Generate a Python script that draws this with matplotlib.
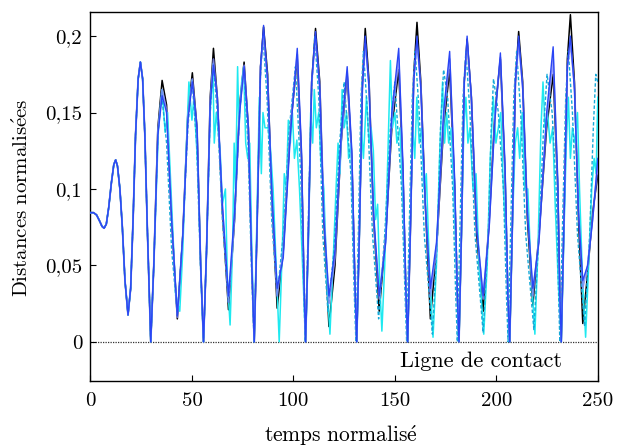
import matplotlib
matplotlib.use("Agg")
import matplotlib.pyplot as plt

plt.rcParams['font.family'] = ['cmr10', 'DejaVu Serif']
plt.rcParams['mathtext.fontset'] = 'cm'
plt.rcParams['axes.unicode_minus'] = False

# start of the signal (all simulations coincide here)
t_start = [0, 1.5, 3, 4.5, 5.7, 6.7, 7.8, 9, 10.3, 11.5, 12.4, 13.3, 14.5, 15.7, 17, 18.5, 19.8,
           21, 22.2, 23.5, 24.6, 25.7, 26.8, 28, 29.7]
d_start = [.0845, .0845, .083, .079, .0755, .0743, .077, .088, .104, .116, .119, .115, .100, .075,
           .040, .0176, .035, .08, .135, .172, .183, .172, .135, .075, 0]

# shared time grid for black / blue / mid-blue (after the start)
t = [31.2,
     33.2, 35.3, 37.5, 40, 42.8, 45.5, 48, 50.2, 52.5, 54.3, 55.7, 57.2, 59, 60.6, 62.5, 65,
     68, 71, 73.5, 75.7, 77.8, 79.5, 80.7, 82, 83.8, 85.3, 87.3, 89.5, 92, 95, 98.5, 101.9,
     104, 105.2, 106, 107.2, 109, 110.9, 113, 115, 117.5, 120.5, 123.5, 126.5, 128.8, 130.3,
     131.2, 132.5, 134, 135.4, 137.3, 139.5, 142.3, 145.5, 148.5, 151.9, 154, 155.4, 156.3,
     157.6, 159.3, 160.9, 162.8, 165, 167.5, 170.5, 174, 177, 179.5, 180.8, 181.6, 182.8,
     184.2, 185.6, 187.7, 190.3, 193.5, 196.5, 199.3, 202, 204.3, 205.7, 206.6, 207.8, 209.4,
     211, 213, 215.3, 218, 221, 224.8, 228, 230.3, 231.3, 232, 233.2, 235, 236.5, 238.5,
     240.5, 242.6, 245, 247.5, 250]

d_black = [.05,
           .14, .171, .155, .08, .015, .07, .15, .176, .14, .05, 0, .06, .16, .192, .16, .085,
           .021, .08, .155, .183, .14, .05, 0, .07, .18, .206, .175, .09, .022, .06, .14, .185,
           .12, .04, 0, .06, .17, .205, .17, .08, .01, .05, .13, .175, .12, .04,
           0, .07, .17, .205, .17, .08, .02, .07, .14, .178, .11, .035, 0,
           .07, .175, .209, .17, .09, .015, .06, .14, .178, .1, .03, 0, .07,
           .17, .198, .16, .07, .02, .08, .15, .185, .11, .03, 0, .07, .17,
           .203, .17, .08, .024, .07, .14, .175, .1, .03, 0, .07, .185, .214, .17,
           .08, .012, .045, .085, .109]

d_blue = [.05,
          .135, .161, .15, .08, .017, .07, .145, .17, .14, .05, 0, .06, .155, .181, .16, .09,
          .03, .085, .15, .18, .14, .05, 0, .07, .18, .207, .17, .095, .035, .055, .135, .192,
          .125, .04, 0, .06, .17, .203, .165, .08, .03, .06, .135, .18, .125, .04,
          0, .07, .165, .2, .165, .085, .03, .065, .15, .192, .115, .035, 0,
          .07, .17, .2, .165, .09, .035, .065, .15, .19, .105, .03, 0, .07,
          .17, .2, .16, .075, .03, .075, .145, .189, .115, .03, 0, .07, .17,
          .2, .165, .085, .035, .065, .15, .193, .105, .03, 0, .07, .18, .2, .165,
          .085, .04, .05, .08, .12]

d_mid = [.05,
         .138, .165, .152, .08, .016, .07, .148, .172, .14, .05, 0, .06, .158, .185, .16, .088,
         .026, .08, .152, .181, .14, .05, 0, .07, .18, .2, .172, .09, .03, .06, .14, .188,
         .12, .04, 0, .06, .17, .198, .168, .085, .025, .055, .13, .176, .12, .04,
         0, .07, .168, .195, .168, .08, .028, .068, .145, .185, .11, .035, 0,
         .07, .172, .196, .168, .09, .03, .06, .145, .185, .1, .03, 0, .07,
         .17, .195, .16, .075, .028, .078, .148, .186, .11, .03, 0, .07, .17,
         .195, .168, .085, .03, .068, .145, .185, .1, .03, 0, .07, .18, .195, .168,
         .085, .035, .05, .082, .115]

t_cyan = [31.2, 33.5, 35.3, 36.8, 38, 40, 42, 44,
          45.5, 47, 48.5, 50, 51, 53, 54.5, 55.7, 57.2, 59, 60.3, 61, 62, 63.9, 65, 66.5, 67.5,
          68.8, 70, 70.8, 71.5, 72.5, 73.2, 74.5, 75.5, 76.5, 77.5, 78.5, 79.5, 80.7, 82, 83.2,
          84.2, 85, 86, 87.5, 88.5, 90, 91.5, 93, 94.5, 95.5, 96.5, 97.5, 98.5, 99.5, 100.5,
          101.7, 103, 104.5, 106, 107.5, 108.5, 109.5, 110.3, 111.3, 112.5, 113.5, 115, 116.5,
          118, 119.5, 121, 122, 123, 124, 125, 126.2, 127.2, 128.3, 129.5, 131.2, 132.5, 133.5,
          134.5, 136, 137.3, 138.3, 139.4, 140.5, 141.5, 142.5, 143.6, 145, 146.5, 147.8, 148.8,
          150, 151, 152.5, 154, 156.3, 157.5, 158.8, 159.8, 160.8, 162, 163.2, 164.3, 165.5,
          167, 168.8, 170.5, 172, 173.5, 174.5, 175.5, 176.5, 177.8, 179, 181.6, 183, 184, 185,
          186, 187, 188.5, 190, 191.5, 193.8, 195.5, 197, 198.5, 199.8, 201, 202.2, 203.5, 205,
          206.6, 208, 209.3, 210.5, 211.5, 212.8, 214, 215.5, 217, 219, 220.5, 222, 223, 224,
          225.2, 226.5, 227.8, 229, 230.5, 232, 233.5, 234.5, 235.5, 236.5, 237.5, 238.8, 240,
          241, 242.5, 244, 245.5, 247, 248.2, 249.2, 250]

d_cyan = [.05, .14, .165, .137, .15, .09, .03, .02,
          .06, .12, .17, .145, .16, .11, .04, 0, .06, .15, .18, .13, .15, .125, .09, .1, .04,
          .011, .06, .13, .1, .18, .14, .17, .18, .13, .12, .13, .06, 0, .08, .16,
          .11, .15, .14, .14, .13, .1, .05, 0, .06, .11, .1, .145, .13, .15, .12,
          .132, .1, .05, 0, .07, .15, .13, .165, .14, .15, .12, .1, .04,
          .005, .05, .1, .13, .11, .165, .14, .15, .12, .13, .07, 0, .07, .14,
          .12, .16, .13, .14, .125, .08, .09, .04, .007, .05, .12, .184, .14,
          .15, .13, .14, .09, 0, .07, .14, .12, .16, .13, .14, .1, .11,
          .05, .003, .05, .12, .17, .13, .15, .13, .14, .1, 0, .08, .14, .16,
          .13, .14, .1, .11, .05, .005, .05, .12, .16, .13, .14, .15, .1, .06,
          0, .08, .13, .14, .12, .15, .1, .1, .05, .005, .06, .14, .17, .14,
          .15, .13, .14, .09, .04, 0, .08, .13, .16, .12, .14, .13, .15,
          .1, .04, .003, .05, .1, .12, .11, .16]

t_dash = [31.2, 33.2,
          35, 37.5, 40, 42.8, 45.5, 48, 50, 52.3, 54.2, 55.7, 57.2, 59, 60.5, 62.5, 65, 68, 71,
          73.5, 75.5, 77.6, 79.3, 80.6, 82, 83.6, 85, 87, 89.3, 92, 95, 98, 101, 103.6, 105,
          105.8, 107, 108.8, 110.5, 112.5, 114.5, 117, 120, 122.8, 125, 128.3, 129.8, 130.8, 132,
          133.3, 134.5, 136.5, 139, 142, 145, 147.8, 150, 153.3, 154.9, 155.8, 157, 158.6, 160,
          162, 164.5, 168.5, 171, 172.5, 174, 176, 178.5, 180, 180.8, 182, 183.6, 185, 187, 189.5,
          193.5, 196, 197.5, 198.6, 201, 203.5, 205, 205.8, 207, 208.6, 210, 212, 214.5, 218.5,
          221, 223.3, 225, 227.5, 229.5, 230.7, 231.3, 232.5, 234.2, 235.5, 237.5, 240, 243.5,
          246, 247.8, 249, 250]

d_dash = [.05, .135,
          .163, .13, .06, .018, .07, .14, .172, .13, .05, 0, .06, .15, .182, .15, .08, .025, .08,
          .15, .18, .13, .05, 0, .07, .17, .2, .16, .08, .03, .07, .14, .18, .11, .04,
          0, .06, .16, .2, .16, .07, .02, .06, .13, .17, .11, .04, 0, .07,
          .16, .19, .15, .07, .015, .07, .14, .17, .1, .035, 0, .07, .16, .19,
          .15, .07, .005, .07, .14, .178, .16, .1, .03, 0, .07, .16, .19, .15, .07,
          .006, .07, .14, .172, .15, .1, .03, 0, .07, .16, .19, .15, .07, .008,
          .07, .14, .175, .15, .1, .03, 0, .07, .16, .19, .15, .07, .01,
          .07, .14, .175, .17]

xticks = [0, 50, 100, 150, 200, 250]
yticks = [0, 0.05, 0.1, 0.15, 0.2]
ytick_labels = ['0', '0,05', '0,1', '0,15', '0,2']

fig = plt.figure(figsize=(6.24, 4.48), dpi=100)
ax = fig.add_axes([0.145, 0.150, 0.813, 0.823])

ax.plot(t_start + t, d_start + d_black, color='black', lw=1.1, zorder=2)
ax.plot(t_start + t_cyan, d_start + d_cyan, color='#1ee9f0', lw=1.1, zorder=3)
ax.plot(t_start + t_dash, d_start + d_dash, color='#15a9d8', lw=1.0, ls=(0, (2.5, 1.5)), zorder=4)
ax.plot(t_start + t, d_start + d_mid, color='#7d86f5', lw=1.3, alpha=0.8, zorder=4)
ax.plot(t_start + t, d_start + d_blue, color='#2a45f5', lw=1.0, zorder=5)

ax.axhline(0, color='#333333', lw=0.9, ls=(0, (1, 1)), zorder=1)
ax.text(232.6, -0.0125, 'Ligne de contact', fontsize=16, ha='right', va='center')

ax.set_xlim(0, 250)
ax.set_ylim(-0.0255, 0.2157)
ax.set_xticks(xticks)
ax.set_xticklabels([str(v) for v in xticks])
ax.set_yticks(yticks)
ax.set_yticklabels(ytick_labels)
ax.tick_params(direction='in', labelsize=15, length=4, width=0.8)
ax.tick_params(axis='x', pad=8)
ax.tick_params(axis='y', pad=6)
for s in ax.spines.values():
    s.set_linewidth(1.0)

fig.text(0.547, 1 - 436 / 448, r'$\mathrm{temps\ normalis\acute{e}}$', fontsize=15.5,
         ha='center', va='center')
fig.text(0.036, 1 - 198 / 448, r'$\mathrm{Distances\ normalis\acute{e}es}$', fontsize=15,
         ha='center', va='center', rotation=90)

fig.savefig('out.png', dpi=100)
